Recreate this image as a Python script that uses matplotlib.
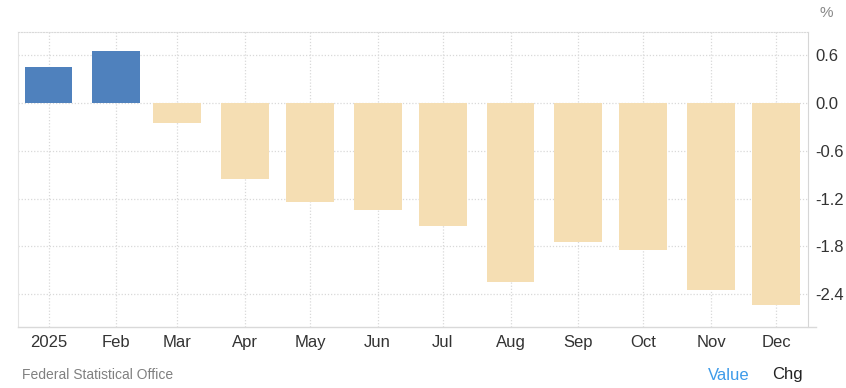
import numpy as np
import pandas as pd
import matplotlib
matplotlib.use('Agg')
import matplotlib.pyplot as plt
import matplotlib.dates as mdates

plt.rcParams['font.family'] = ['Liberation Sans', 'DejaVu Sans']
plt.rcParams['axes.unicode_minus'] = False

MONTHS = ['2025-01-01', '2025-02-01', '2025-03-01', '2025-04-01', '2025-05-01', '2025-06-01',
          '2025-07-01', '2025-08-01', '2025-09-01', '2025-10-01', '2025-11-01', '2025-12-01']
LABELS = ['2025', 'Feb', 'Mar', 'Apr', 'May', 'Jun', 'Jul', 'Aug', 'Sep', 'Oct', 'Nov', 'Dec']
VALUES = [0.45, 0.65, -0.25, -0.95, -1.24, -1.34, -1.54, -2.24, -1.74, -1.84, -2.34, -2.53]
YTICKS = [0.6, 0.0, -0.6, -1.2, -1.8, -2.4]

BLUE = '#4f81bd'
BEIGE = '#f5deb3'
GRID = '#d9d9d9'

dates = mdates.date2num(pd.to_datetime(MONTHS))
colors = [BLUE if v >= 0 else BEIGE for v in VALUES]

fig = plt.figure(figsize=(8.46, 3.88), dpi=100)
ax = fig.add_axes([18 / 846, 1 - 327 / 388, (808 - 18) / 846, (327 - 32) / 388])

ax.bar(dates, VALUES, width=22, color=colors, zorder=2)

ax.set_xlim(dates[0] - 14, dates[-1] + 14.5)
ax.set_ylim(-2.81, 0.89)

ax.set_xticks(dates)
ax.set_xticklabels(LABELS)
ax.set_yticks(YTICKS)
ax.set_yticklabels([f'{t:.1f}' for t in YTICKS])
ax.yaxis.tick_right()
ax.tick_params(axis='both', length=0, labelsize=12, colors='#333333')
ax.tick_params(axis='x', pad=6)
ax.tick_params(axis='y', pad=5)

ax.grid(True, color=GRID, linestyle=(0, (1, 1.5)), linewidth=0.9, zorder=0)
ax.set_axisbelow(True)

ax.spines['top'].set_color(GRID)
ax.spines['top'].set_linestyle((0, (1, 1.5)))
ax.spines['left'].set_color('#e4e4e4')
ax.spines['right'].set_color('#d6d6d6')
ax.spines['bottom'].set_visible(False)
ax.plot([0, 1.01], [0, 0], transform=ax.transAxes, color='#d9d9d9', lw=1, clip_on=False, zorder=3)

fig.text(826 / 846, 1 - 13 / 388, '%', fontsize=11, color='#888888', ha='center', va='center')
fig.text(22 / 846, 1 - 375 / 388, 'Federal Statistical Office', fontsize=10, color='#808080', va='center')
fig.text(729 / 846, 1 - 375 / 388, 'Value', fontsize=12, color='#3d9be9', ha='center', va='center')
fig.text(787 / 846, 1 - 375 / 388, 'Chg', fontsize=12, color='#222222', ha='center', va='center')

fig.savefig('out.png', dpi=100)
